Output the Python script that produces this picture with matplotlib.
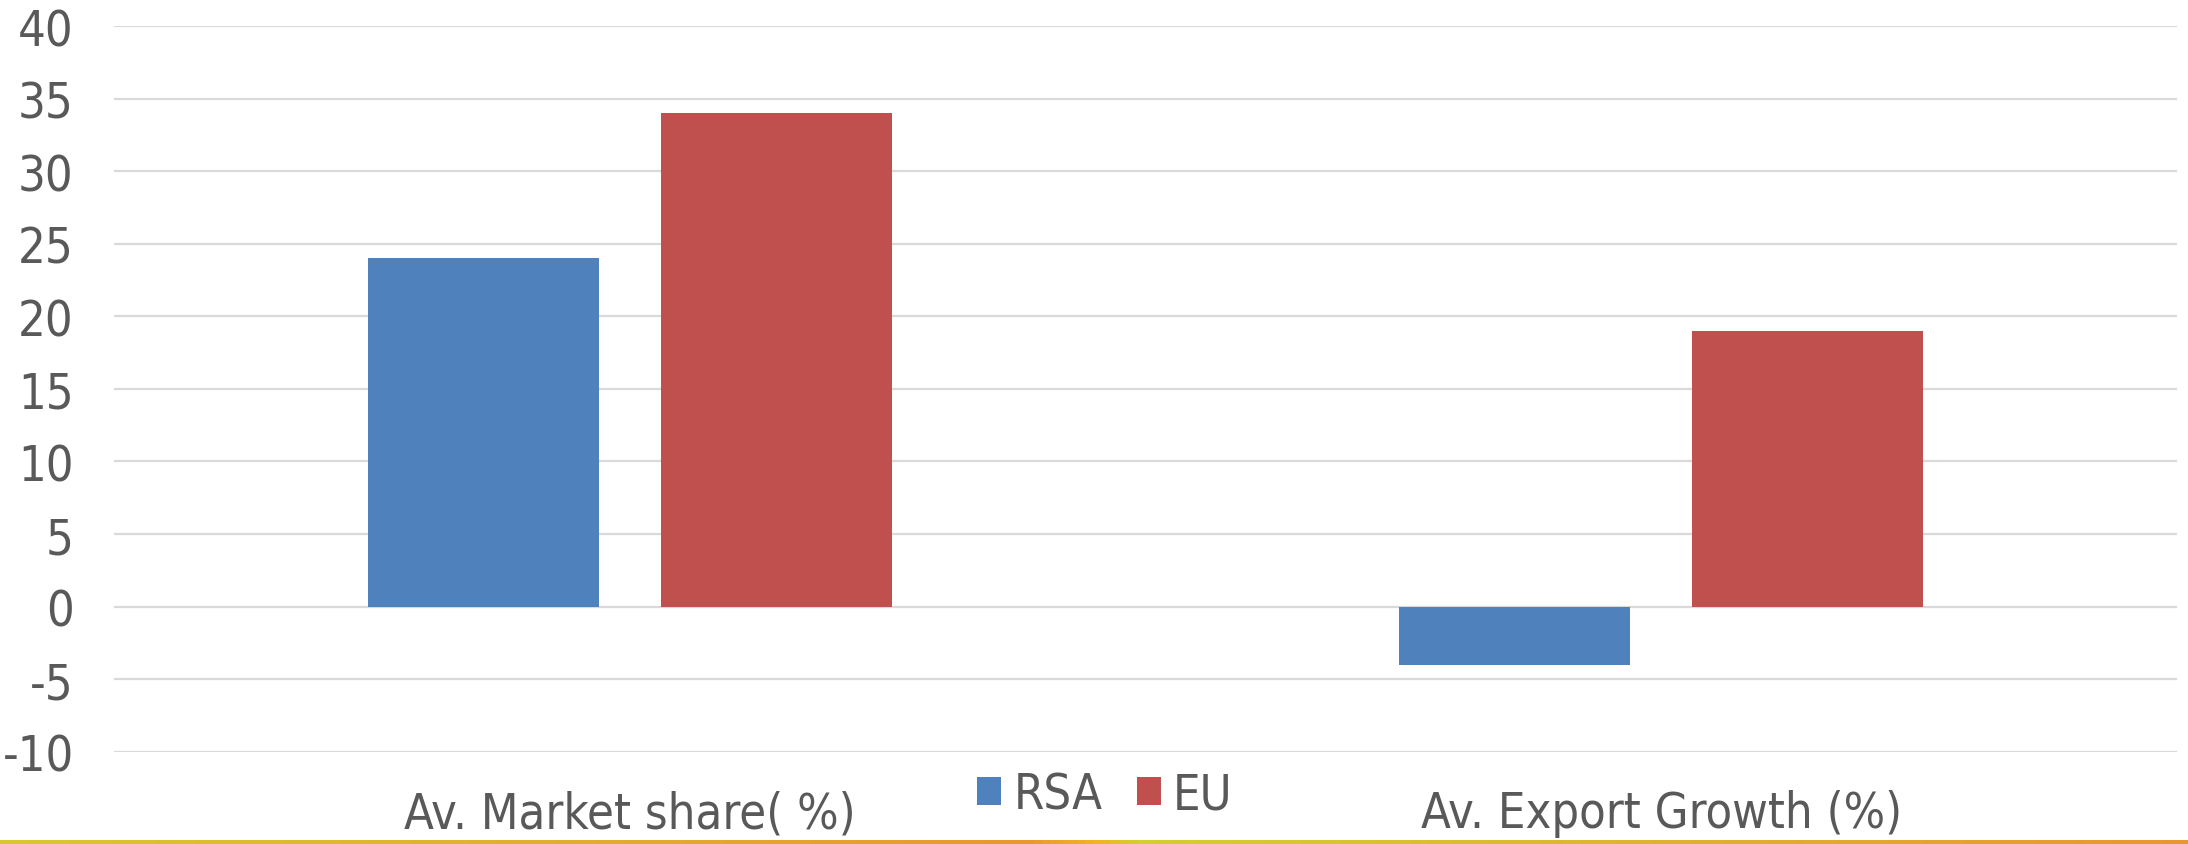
import numpy as np
import matplotlib
matplotlib.use("Agg")
import matplotlib.pyplot as plt
from matplotlib.colors import LinearSegmentedColormap

# data
categories = ["Av. Market share( %)", "Av. Export Growth (%)"]
series_names = ["RSA", "EU"]
rsa_values = [24, -4]
eu_values = [34, 19]
y_ticks = [-10, -5, 0, 5, 10, 15, 20, 25, 30, 35, 40]

colors = ["#4F81BD", "#C0504D"]
text_color = "#595959"
grid_color = "#D9D9D9"

# bottom decoration strip (gold -> orange -> yellow -> orange)
strip_stops = [(0.0, "#D9C82D"), (0.47, "#E9982E"), (0.50, "#F4B223"),
               (0.52, "#D4CF2E"), (1.0, "#EA962E")]

plt.rcParams["font.family"] = ["DejaVu Sans"]
plt.rcParams["font.stretch"] = "condensed"

fig = plt.figure(figsize=(21.88, 8.45), dpi=100)
ax = fig.add_axes([0.0521, 0.1092, 0.9429, 0.8588])

x = np.arange(len(categories))
width = 0.224
offset = 0.142
ax.bar(x - offset, rsa_values, width, color=colors[0], label=series_names[0], zorder=3)
ax.bar(x + offset, eu_values, width, color=colors[1], label=series_names[1], zorder=3)

ax.set_xlim(-0.5, len(categories) - 0.5)
ax.set_ylim(min(y_ticks), max(y_ticks))
ax.set_yticks(y_ticks)
ax.set_yticklabels([str(t) for t in y_ticks])
ax.set_xticks(x)
ax.set_xticklabels(categories)
ax.tick_params(axis="y", length=0, pad=29, labelsize=35, labelcolor=text_color)
ax.tick_params(axis="x", length=0, pad=27, labelsize=35, labelcolor=text_color)
for lab in ax.get_yticklabels() + ax.get_xticklabels():
    lab.set_fontstretch("condensed")

ax.yaxis.grid(True, color=grid_color, linewidth=1.6, zorder=0)
ax.xaxis.grid(False)
for s in ax.spines.values():
    s.set_visible(False)

leg = fig.legend(loc="center", bbox_to_anchor=(0.505, 0.059), ncol=2, frameon=False,
                 fontsize=35, handlelength=0.5, handleheight=0.5,
                 handletextpad=0.25, columnspacing=0.7, labelcolor=text_color)

# gradient strip at the very bottom
cmap = LinearSegmentedColormap.from_list("strip", strip_stops)
sax = fig.add_axes([0, 0, 1, 4 / 845])
sax.imshow(np.linspace(0, 1, 512)[None, :], aspect="auto", cmap=cmap)
sax.set_axis_off()

fig.savefig("out.png", dpi=100)
